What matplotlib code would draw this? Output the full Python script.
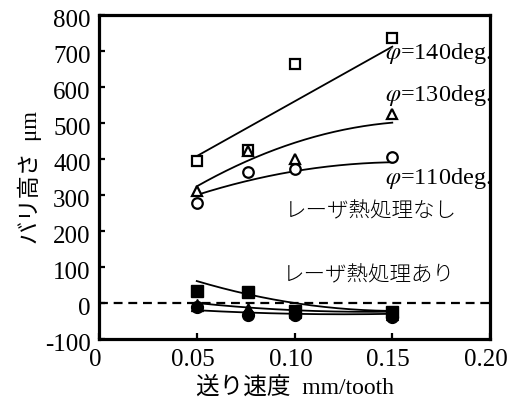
import numpy as np
import matplotlib
matplotlib.use("Agg")
import matplotlib.pyplot as plt
from matplotlib.transforms import ScaledTranslation

plt.rcParams['mathtext.fontset'] = 'stix'
plt.rcParams['axes.unicode_minus'] = False
SERIF = 'Liberation Serif'
JP = 'Noto Sans CJK JP'

# feed rate (mm/tooth)
feed = [0.05, 0.076, 0.10, 0.15]

# burr height (um) without laser heat treatment
untreated_140 = [394, 426, 664, 736]
untreated_130 = [310, 422, 400, 524]
untreated_110 = [279, 364, 371, 405]

# burr height (um) with laser heat treatment
treated_140 = [33, 31, -22, -25]
treated_130 = [-5, -17, -25, -30]
treated_110 = [-11, -32, -33, -38]

# trend curves: values at feed 0.05 / 0.10 / 0.15, drawn as quadratics
trend_feed = [0.05, 0.10, 0.15]
trend_untreated_140 = [408, 560, 712]
trend_untreated_130 = [324, 445, 501]
trend_untreated_110 = [300, 366, 391]
trend_treated_140 = [61, 0, -22]
trend_treated_130 = [0, -20, -24]
trend_treated_110 = [-20, -30, -30]

labels_phi = ['140', '130', '110']

fig = plt.figure(figsize=(5.07, 4.08), dpi=100)
ax = fig.add_axes([0.1953, 0.1691, 0.7712, 0.7941])

xs = np.linspace(trend_feed[0], trend_feed[-1], 200)


def trend(vals):
    c = np.polyfit(trend_feed, vals, 2)
    return np.polyval(c, xs)


for vals in (trend_untreated_140, trend_untreated_130, trend_untreated_110,
             trend_treated_140, trend_treated_130, trend_treated_110):
    ax.plot(xs, trend(vals), color='black', lw=1.3, zorder=2)

ax.axhline(0, color='black', lw=1.6, ls=(0, (4, 2.6)), zorder=1.5)

ms_kw = dict(ls='none', mec='black', zorder=3)
ax.plot(feed, untreated_140, marker='s', ms=7.8, mew=1.6, mfc='white', **ms_kw)
ax.plot(feed, untreated_130, marker='^', ms=7.8, mew=1.6, mfc='white', **ms_kw)
ax.plot(feed, untreated_110, marker='o', ms=7.6, mew=1.6, mfc='white', **ms_kw)

ax.plot(feed, treated_140, marker='s', ms=8, mew=1, mfc='black', **ms_kw)
ax.plot(feed, treated_130, marker='^', ms=8.5, mew=1, mfc='black', **ms_kw)
ax.plot(feed, treated_110, marker='o', ms=8.5, mew=1, mfc='black', **ms_kw)

ax.set_xlim(0, 0.20)
ax.set_ylim(-100, 800)
ax.set_xticks([0, 0.05, 0.10, 0.15, 0.20])
ax.set_xticklabels(['0', '0.05', '0.10', '0.15', '0.20'])
ax.set_yticks(np.arange(-100, 801, 100))

for s in ax.spines.values():
    s.set_linewidth(2.3)
ax.tick_params(direction='in', length=4.5, width=1.6, labelsize=18,
               top=False, right=False)
ax.tick_params(axis='x', pad=7)
ax.tick_params(axis='y', pad=6)
for lab in ax.get_xticklabels() + ax.get_yticklabels():
    lab.set_family(SERIF)
for lab in ax.get_xticklabels():
    lab.set_transform(lab.get_transform() + ScaledTranslation(-4 / 100, 0, fig.dpi_scale_trans))
for lab in ax.get_yticklabels():
    lab.set_transform(lab.get_transform() + ScaledTranslation(0, -3 / 100, fig.dpi_scale_trans))

ax.set_xlabel('送り速度  mm/tooth', family=[SERIF, JP], fontsize=17, labelpad=4)
ax.set_ylabel('バリ高さ  μm', family=[SERIF, JP], fontsize=16.5, labelpad=2)

phi_y = [694, 576, 347]
for lab, y in zip(labels_phi, phi_y):
    ax.text(0.1463, y, r'$\varphi$=' + lab + 'deg.', family=SERIF, fontsize=17.5,
            ha='left', va='center', clip_on=False, zorder=4)

ax.text(0.0951, 254, 'レーザ熱処理なし', family=JP, fontsize=15.5, fontweight='light',
        ha='left', va='center')
ax.text(0.094, 78, 'レーザ熱処理あり', family=JP, fontsize=15.5, fontweight='light',
        ha='left', va='center')

fig.savefig('out.png', dpi=100)
